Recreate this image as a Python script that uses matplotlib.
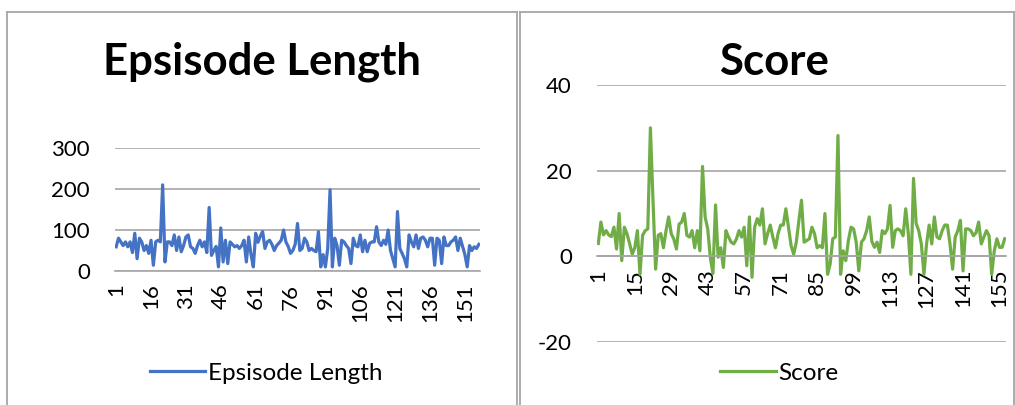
"""Episode length and score curves, drawn as two Excel-style line charts."""

import matplotlib

matplotlib.use("Agg")
import matplotlib.pyplot as plt
import numpy as np
from matplotlib.lines import Line2D

plt.rcParams["font.family"] = ["Lato", "DejaVu Sans"]
plt.rcParams["axes.unicode_minus"] = False

# episode length per episode
EP_LENGTH = [
    59, 80, 71, 62, 71, 59, 71, 45, 92, 30, 80, 71, 50, 62, 43, 75, 14, 71, 75, 71,
    210, 22, 71, 71, 62, 88, 50, 83, 47, 62, 83, 88, 59, 55, 43, 62, 75, 59, 71, 45, 155,
    38, 50, 60, 10, 105, 22, 75, 18, 71, 65, 59, 62, 55, 62, 75, 22, 83, 40, 10,
    92, 70, 85, 96, 55, 71, 75, 65, 50, 62, 68, 75, 100, 71, 60, 43, 50, 65, 116, 50,
    55, 80, 71, 50, 55, 50, 47, 96, 10, 40, 10, 55, 198, 10, 80, 62, 14, 75, 71, 62,
    55, 18, 80, 62, 59, 88, 47, 75, 47, 67, 71, 71, 108, 71, 62, 75, 65, 100, 50, 30, 10,
    145, 55, 43, 30, 10, 88, 71, 59, 88, 55, 80, 83, 75, 59, 80, 80, 14, 80, 75, 18,
    83, 62, 62, 71, 75, 83, 50, 80, 60, 40, 10, 62, 50, 59, 55, 65,
]

# score per episode
SCORE = [
    3, 8, 5, 6, 5, 4.6, 6.8, 1.7, 10, -1, 6.8, 5.3, 3, 0.5, 2, 6, -4.2, 4.9, 6, 6.4,
    30, 13, -3, 4.9, 5.3, 2, 6, 9.2, 5.3, 4, 1.7, 7.5, 8, 10, 4.9, 4.5, 6, 2, 6, 1.3,
    21, 9.2, 6.4, -0.2, -4, 12, -0.2, 2, -2.6, 6, 4.5,
    3.3, 2.9, 4, 6, 4.5, 6.8, -2.2, 9.2, -4.9, 6.8, 8.8, 7.3, 11.1, 2.9, 5.3, 7.3, 4.5, 2.0, 5.3,
    7.3, 7.3, 11.1, 6.8, 2.5, 0.5, 3.3, 8.4, 13.1, 3.3, 3.7, 4.1, 6.8, 5.3, 2.0, 2.5, 2.0, 10.0,
    -4.2, -1.8, 4.1, 4.5, 28.2, -4.2, 1.3, -1.0, 3.7, 6.8, 6.4, 3.3, -3.4, 3.3, 4.1, 6.0, 9.2,
    3.5, 2.1, 3.3, 0.9, 6.0, 5.3, 6.4, 11.9, 2.1, 6.0, 6.4, 6.0, 4.8, 11.1, 5.3, -4.2, 18.2,
    7.7, 6.0, 2.9, -4.2, 2.9, 7.3, 2.9, 9.2, 4.5, 4.1, 6.0, 7.3, 7.3, 2.9, -3.0, 4.5, 6.0, 8.4,
    -3.4, 6.4, 6.4, 6.0, 4.8, 5.5, 8.0, 2.9, 4.5, 6.0, 4.8, -4.2, 1.3, 4.1, 2.1, 2.1, 4.1,
]

LEN_YTICKS = [0, 100, 200, 300]
SCORE_YTICKS = [-20, 0, 20, 40]
LEN_XSTEP = 15
SCORE_XSTEP = 14

BLUE = "#4472C4"
GREEN = "#70AD47"
GRID = "#A6A6A6"
BORDER = "#A6A6A6"

W, H = 1015, 405


def _fx(px):
    return px / W


def _fy(py):
    return 1 - py / H


def _chart_box(fig, x0, x1, top):
    kw = dict(color=BORDER, lw=1.3, transform=fig.transFigure)
    fig.add_artist(Line2D([_fx(x0), _fx(x1)], [_fy(top), _fy(top)], **kw))
    fig.add_artist(Line2D([_fx(x0), _fx(x0)], [_fy(top), 0], **kw))
    fig.add_artist(Line2D([_fx(x1), _fx(x1)], [_fy(top), 0], **kw))


def _line_panel(ax, values, color, yticks, xstep):
    n = len(values)
    x = np.arange(1, n + 1)
    ax.plot(x, values, color=color, lw=2.3, solid_joinstyle="round")
    ax.set_xlim(0.5, n + 0.5)
    ax.set_ylim(yticks[0], yticks[-1])
    ax.set_yticks(yticks)
    ax.set_xticks(np.arange(1, n + 1, xstep))
    ax.tick_params(axis="x", length=0, labelrotation=90, labelsize=16, pad=9)
    ax.tick_params(axis="y", length=0, labelsize=16, pad=18)
    ax.grid(axis="y", color=GRID, lw=1.2)
    ax.set_axisbelow(True)
    for side in ("top", "left", "right"):
        ax.spines[side].set_visible(False)
    ax.spines["bottom"].set_position(("data", 0))
    ax.spines["bottom"].set_color(GRID)
    ax.spines["bottom"].set_linewidth(1.2)
    for lab in ax.get_xticklabels():
        lab.set_verticalalignment("top")


def main() -> None:
    fig = plt.figure(figsize=(W / 100, H / 100), dpi=100)

    _chart_box(fig, 7, 517, 12)
    _chart_box(fig, 520, 1014, 12)

    ax1 = fig.add_axes([_fx(115), _fy(271), _fx(480) - _fx(115), _fy(148) - _fy(271)])
    _line_panel(ax1, EP_LENGTH, BLUE, LEN_YTICKS, LEN_XSTEP)

    ax2 = fig.add_axes([_fx(597), _fy(342), _fx(1006) - _fx(597), _fy(85) - _fy(342)])
    _line_panel(ax2, SCORE, GREEN, SCORE_YTICKS, SCORE_XSTEP)

    fig.text(_fx(262), _fy(62), "Epsisode Length", ha="center", va="center",
             fontsize=31.5, fontweight="bold")
    fig.text(_fx(774), _fy(62), "Score", ha="center", va="center",
             fontsize=31.5, fontweight="bold")

    for label, color, cx in (("Epsisode Length", BLUE, 266), ("Score", GREEN, 779)):
        handle = Line2D([], [], color=color, lw=2.3)
        fig.legend([handle], [label], loc="center", bbox_to_anchor=(_fx(cx), _fy(373)),
                   frameon=False, fontsize=17.5, handlelength=2.3, handletextpad=0.1,
                   borderaxespad=0)

    fig.savefig("out.png", dpi=100)
    plt.close(fig)


if __name__ == "__main__":
    main()
